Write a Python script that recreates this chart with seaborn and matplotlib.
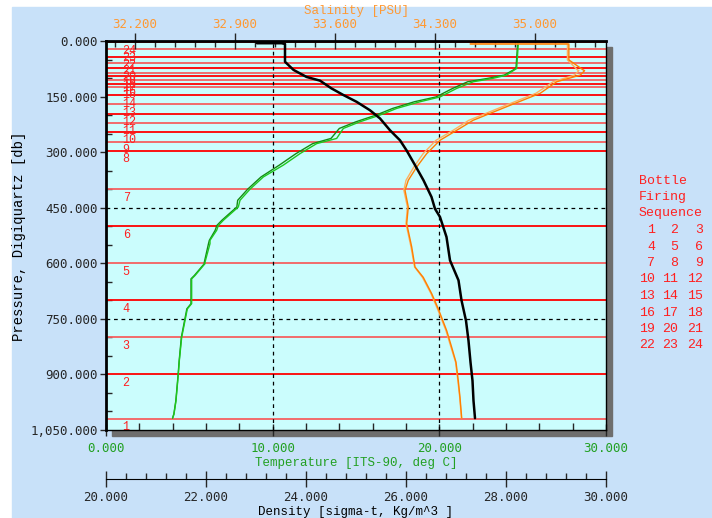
import numpy as np
import pandas as pd
import seaborn as sns
import matplotlib.pyplot as plt
from matplotlib.patches import Rectangle
from matplotlib.ticker import FixedLocator, MultipleLocator, FuncFormatter

sns.set_style("ticks")
plt.rcParams["font.family"] = ["DejaVu Sans Mono", "DejaVu Sans"]

# CTD cast values
pres_t = [4, 6, 74, 92, 101, 110, 128, 151, 164, 182, 200, 218, 236, 263, 277, 304, 335,
          367, 400, 430, 448, 484, 498, 511, 538, 547, 597, 601, 633, 642, 709, 723, 800,
          863, 899, 971, 1007, 1018]
temp1 = [24.74, 24.74, 24.64, 24.04, 23.20, 22.04, 21.04, 20.04, 18.84, 17.44, 16.44, 15.24,
         14.24, 13.84, 12.64, 11.64, 10.64, 9.44, 8.64, 8.04, 7.94, 7.04, 6.74, 6.64, 6.24,
         6.24, 5.94, 5.94, 5.34, 5.14, 5.14, 4.88, 4.54, 4.40, 4.34, 4.20, 4.08, 4.00]
temp2 = [24.70, 24.70, 24.60, 23.90, 22.90, 21.70, 20.80, 19.80, 18.50, 17.20, 16.20, 15.00,
         14.00, 13.50, 12.40, 11.40, 10.40, 9.30, 8.50, 7.90, 7.85, 6.95, 6.65, 6.55, 6.20,
         6.15, 5.90, 5.90, 5.30, 5.10, 5.10, 4.85, 4.52, 4.39, 4.33, 4.19, 4.07, 3.99]

pres_s = [8, 8, 51, 78, 80, 92, 110, 141, 178, 214, 241, 268, 304, 340, 376, 403, 448, 493,
          556, 610, 638, 682, 723, 782, 827, 867, 917, 962, 1018]
sal1 = [34.55, 35.24, 35.24, 35.34, 35.35, 35.32, 35.155, 35.04, 34.80, 34.57, 34.455, 34.338,
        34.245, 34.175, 34.116, 34.093, 34.116, 34.105, 34.14, 34.163, 34.221, 34.28, 34.326,
        34.385, 34.42, 34.45, 34.466, 34.478, 34.49]
sal2 = [34.55, 35.23, 35.23, 35.30, 35.31, 35.28, 35.13, 35.01, 34.77, 34.54, 34.43, 34.31,
        34.22, 34.155, 34.10, 34.085, 34.11, 34.10, 34.135, 34.16, 34.215, 34.275, 34.32,
        34.38, 34.415, 34.447, 34.463, 34.476, 34.488]

pres_d = [6, 6, 8, 56, 60, 78, 97, 107, 128, 146, 164, 187, 209, 241, 268, 295, 335, 376, 421,
          453, 475, 529, 592, 646, 700, 755, 809, 867, 917, 971, 1018]
dens = [23.02, 23.51, 23.58, 23.58, 23.61, 23.75, 24.01, 24.28, 24.51, 24.75, 25.01, 25.28,
        25.48, 25.68, 25.88, 26.01, 26.18, 26.35, 26.51, 26.58, 26.68, 26.81, 26.88, 27.05,
        27.11, 27.20, 27.25, 27.29, 27.33, 27.35, 27.38]

bottle_p = [1020, 900, 800, 700, 600, 500, 400, 296, 272, 245, 221, 196, 170, 146, 124, 115,
            104, 95, 87, 74, 59, 42, 22, 3]

sal_ticks = [32.2, 32.9, 33.6, 34.3, 35.0]

W, H = 712, 518
L, R, T, B = 106, 606, 41, 430


def fx(px):
    return px / W


def fy(py):
    return 1 - py / H


RED = "#ff2020"
GREEN = "#22a022"
ORANGE = "#ff9933"
MONO = "Liberation Mono"

fig = plt.figure(figsize=(W / 100, H / 100), dpi=100, facecolor="white")
fig.patches.append(Rectangle((fx(12), 0), 1 - fx(12), fy(7), transform=fig.transFigure,
                             color="#c8e1f9", zorder=-3))
fig.patches.append(Rectangle((fx(L + 6), fy(B + 6)), fx(R) - fx(L), fy(T) - fy(B),
                             transform=fig.transFigure, color="#6e6e6e", zorder=-2))

ax = fig.add_axes([fx(L), fy(B), fx(R) - fx(L), fy(T) - fy(B)])
ax.set_facecolor("#cbfdfd")

# bottle lines
for i, p in enumerate(bottle_p):
    ax.axhline(p, color="#ff0000" if i % 2 else "#f46060", lw=1.3, zorder=1)
    ax.text(1.0, p + 23, str(i + 1), color=RED, fontsize=8.5, family=MONO,
            ha="left", va="center", zorder=1)

for v in (10, 20):
    ax.axvline(v, color="black", lw=0.9, ls=(0, (3, 3)), zorder=1)
for h in (450, 750):
    ax.axhline(h, color="black", lw=0.9, ls=(0, (3, 3)), zorder=1)

sns.lineplot(x=temp2, y=pres_t, sort=False, estimator=None, color="#148c14", lw=1, ax=ax)
sns.lineplot(x=temp1, y=pres_t, sort=False, estimator=None, color="#1ec81e", lw=1, ax=ax)
ax.set_xlim(0, 30)
ax.set_ylim(1050, 0)

ax2 = ax.twiny()
sns.lineplot(x=sal2, y=pres_s, sort=False, estimator=None, color="#ffb060", lw=1, ax=ax2)
sns.lineplot(x=sal1, y=pres_s, sort=False, estimator=None, color="#ff8000", lw=1, ax=ax2)
ax2.set_xlim(32.0, 35.5)

ax3 = ax.twiny()
sns.lineplot(x=dens, y=pres_d, sort=False, estimator=None, color="black", lw=1.8, ax=ax3)
ax3.set_xlim(20, 30)
ax.set_ylim(1050, 0)

fmt3 = FuncFormatter(lambda v, _: f"{v:.3f}")

# temperature (bottom of plot)
ax.xaxis.set_major_locator(MultipleLocator(10))
ax.xaxis.set_minor_locator(MultipleLocator(2))
ax.xaxis.set_major_formatter(fmt3)
ax.tick_params(axis="x", which="major", direction="inout", length=8, width=1, pad=4.5,
               labelcolor=GREEN, labelsize=9, top=False)
ax.tick_params(axis="x", which="minor", direction="in", length=5, width=1, top=False)

# pressure
ax.yaxis.set_major_locator(MultipleLocator(150))
ax.yaxis.set_minor_locator(MultipleLocator(50))
ax.yaxis.set_major_formatter(FuncFormatter(lambda v, _: f"{v:,.3f}"))
ax.tick_params(axis="y", which="major", direction="out", length=4, width=1, pad=2,
               labelsize=9, right=False)
ax.tick_params(axis="y", which="minor", direction="in", length=4, width=1, right=False)

# salinity (top)
ax2.xaxis.set_major_locator(FixedLocator(sal_ticks))
ax2.xaxis.set_minor_locator(FixedLocator(np.arange(32.06, 35.5, 0.14)))
ax2.xaxis.set_major_formatter(fmt3)
ax2.tick_params(axis="x", which="major", direction="inout", length=11, width=1, pad=1.5,
                labelcolor=ORANGE, labelsize=9)
ax2.tick_params(axis="x", which="minor", direction="in", length=4.5, width=1)

# density (separate axis below)
ax3.xaxis.tick_bottom()
ax3.spines["bottom"].set_position(("outward", 35.5))
ax3.xaxis.set_major_locator(MultipleLocator(2))
ax3.xaxis.set_minor_locator(MultipleLocator(0.4))
ax3.xaxis.set_major_formatter(fmt3)
ax3.tick_params(axis="x", which="major", direction="inout", length=11, width=1, pad=3.2,
                labelsize=9)
ax3.tick_params(axis="x", which="minor", direction="in", length=4.5, width=1)

for a in (ax, ax2, ax3):
    a.set_xlabel("")
    a.set_ylabel("")

for s in ("left", "right", "bottom"):
    ax2.spines[s].set_visible(False)
for s in ("left", "right", "top"):
    ax3.spines[s].set_visible(False)
ax.spines["top"].set_visible(False)
ax.spines["left"].set_linewidth(2)
ax2.spines["top"].set_linewidth(2)
ax.spines["right"].set_linewidth(1)
ax.spines["bottom"].set_linewidth(1)
for a in (ax, ax2, ax3):
    for s in a.spines.values():
        s.set_color("black")

# axis titles
fig.text(fx(356), fy(11), "Salinity [PSU]", color=ORANGE, family=MONO, fontsize=9,
         ha="center", va="center")
fig.text(fx(356), fy(462.7), "Temperature [ITS-90, deg C]", color=GREEN, family=MONO,
         fontsize=9, ha="center", va="center")
fig.text(fx(356), fy(512.5), "Density [sigma-t, Kg/m^3 ]", color="black", family=MONO,
         fontsize=9, ha="center", va="center")
fig.text(fx(19), fy(236), "Pressure, Digiquartz [db]", color="black", family=MONO,
         fontsize=10, ha="center", va="center", rotation=90)

# bottle firing sequence legend
for k, word in enumerate(["Bottle", "Firing", "Sequence"]):
    fig.text(fx(639), fy(180.7 + 16.3 * k), word, color=RED, family=MONO, fontsize=9.5,
             ha="left", va="center")
col_x = [655, 678, 703]
for r in range(8):
    for c in range(3):
        fig.text(fx(col_x[c]), fy(230 + 16.5 * r), str(r * 3 + c + 1), color=RED,
                 family=MONO, fontsize=9.5, ha="right", va="center")

fig.savefig("out.png", dpi=100, facecolor="white")
